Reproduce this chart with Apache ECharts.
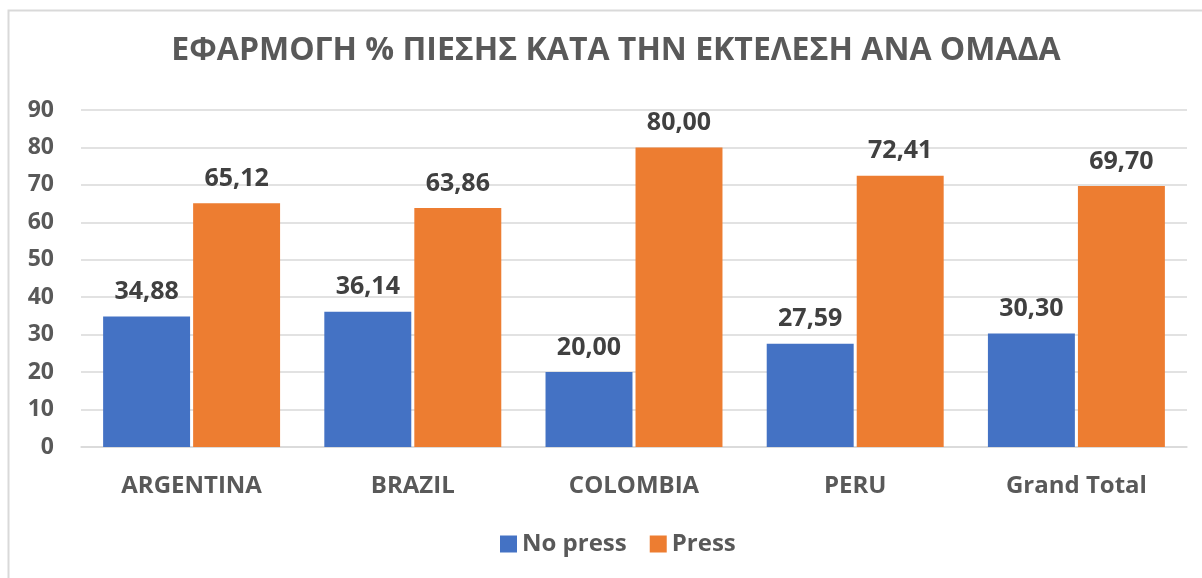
<!DOCTYPE html>
<html><head><meta charset="utf-8">
<script src="https://cdn.jsdelivr.net/npm/echarts@6/dist/echarts.min.js"></script>
<style>html,body{margin:0;padding:0;background:#fff}#c{width:1202px;height:578px}</style>
</head><body><div id="c"></div>
<script>
const categories = ['ARGENTINA', 'BRAZIL', 'COLOMBIA', 'PERU', 'Grand Total'];
const noPress = [34.88, 36.14, 20.00, 27.59, 30.30];
const press = [65.12, 63.86, 80.00, 72.41, 69.70];
const yTicks = [0, 10, 20, 30, 40, 50, 60, 70, 80, 90];
const seriesNames = ['No press', 'Press'];

const FONT = '"Open Sans", "Noto Sans", sans-serif';
const chart = echarts.init(document.getElementById('c'), null, {renderer: 'canvas'});
const lbl = {
  show: true, position: 'top', distance: 12,
  fontFamily: FONT, fontWeight: 'bold', fontSize: 25, color: '#404040',
  formatter: p => p.value.toFixed(2).replace('.', ',')
};
chart.setOption({
  animation: false,
  textStyle: {fontFamily: FONT},
  graphic: [{
    type: 'rect', z: -1, silent: true,
    shape: {x: 8.5, y: 10.5, width: 1300, height: 700},
    style: {fill: 'none', stroke: '#d9d9d9', lineWidth: 2}
  }],
  title: {
    text: 'ΕΦΑΡΜΟΓΗ % ΠΙΕΣΗΣ ΚΑΤΑ ΤΗΝ ΕΚΤΕΛΕΣΗ ΑΝΑ ΟΜΑΔΑ',
    left: 611, textAlign: 'center', top: 30,
    textStyle: {fontFamily: FONT, fontWeight: 'bold', fontSize: 32, color: '#595959'}
  },
  legend: {
    data: seriesNames, bottom: 17, left: 495,
    itemWidth: 17, itemHeight: 17, itemGap: 23, icon: 'rect',
    textStyle: {fontFamily: FONT, fontWeight: 'bold', fontSize: 24, color: '#595959'}
  },
  grid: {left: 81, right: 15, top: 110, bottom: 131, containLabel: false},
  xAxis: {
    type: 'category', data: categories,
    axisLine: {lineStyle: {color: '#d9d9d9', width: 1.5}},
    axisTick: {show: false},
    axisLabel: {fontFamily: FONT, fontWeight: 'bold', fontSize: 24, color: '#595959', margin: 27}
  },
  yAxis: {
    type: 'value', min: yTicks[0], max: yTicks[yTicks.length - 1], interval: 10,
    axisLine: {show: false}, axisTick: {show: false},
    splitLine: {lineStyle: {color: '#d9d9d9', width: 1.5}},
    axisLabel: {fontFamily: FONT, fontWeight: 'bold', fontSize: 23, color: '#595959', margin: 27}
  },
  series: [
    {name: seriesNames[0], type: 'bar', data: noPress, itemStyle: {color: '#4472c4'},
     barGap: '3.5%', barCategoryGap: '20%', label: lbl},
    {name: seriesNames[1], type: 'bar', data: press, itemStyle: {color: '#ed7d31'},
     barGap: '3.5%', barCategoryGap: '20%', label: lbl}
  ]
});
</script></body></html>
